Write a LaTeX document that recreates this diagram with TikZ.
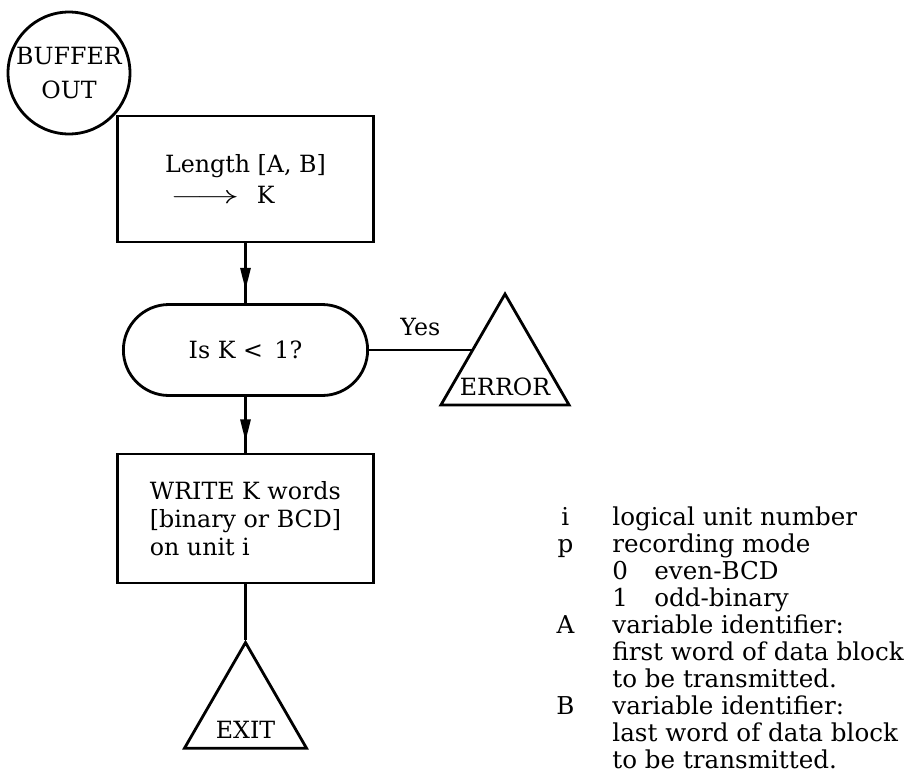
\documentclass[tikz,border=0pt]{standalone}
\usepackage{fontspec}
\setmainfont{DejaVu Serif}
\usetikzlibrary{shapes.geometric,shapes.misc,arrows.meta,decorations.markings}
\tikzset{
  block/.style={draw, line width=1.6pt, rectangle, minimum width=5.12cm, inner sep=0pt},
  entry/.style={draw, line width=1.6pt, circle, minimum size=2.44cm, inner sep=0pt, align=center, font=\fontsize{13.5}{15}\selectfont},
  decision/.style={draw, line width=1.6pt, rounded rectangle, minimum width=5.12cm, minimum height=1.82cm},
  terminal/.style={draw, line width=1.6pt, regular polygon, regular polygon sides=3, inner sep=0pt},
  termtext/.style={inner sep=0pt, above=6pt, font=\fontsize{13.5}{15}\selectfont},
  flow/.style={line width=1.6pt, postaction={decorate}, decoration={markings, mark=at position #1 with {\arrow{Triangle[length=0.44cm,width=0.2cm]}}}},
  flow/.default=0.78,
  link/.style={line width=1.6pt},
  legendtext/.style={inner sep=0pt, font=\fontsize{14}{15.4}\selectfont},
}
\begin{document}
\begin{tikzpicture}[x=0.02cm, y=-0.02cm, font=\fontsize{13.5}{16}\selectfont]
\useasboundingbox (0,0) rectangle (916,778);
% flow chart
\node[entry] (start) at (69,73) {BUFFER\\[4pt]OUT};
\node[block, minimum height=2.52cm, align=left] (len) at (245.5,179) {Length [A, B]\\[1.5pt]\hspace{0.1cm}\scalebox{1.7}[1]{$\longrightarrow$}\hspace{0.35cm}K};
\node[decision] (dec) at (245.5,350) {Is K <\, 1?};
\node[terminal, minimum size=2.96cm] (err) at (505,368) {};
\node[termtext] (errtxt) at (err.south) {ERROR};
\node[block, minimum height=2.58cm, align=left] (write) at (245.5,518.5) {WRITE K words\\{}[binary or BCD]\\on unit i};
\node[terminal, minimum size=2.82cm] (exit) at (245.5,713) {};
\node[termtext] (exittxt) at (exit.south) {EXIT};
\draw[flow] (len.south) -- (dec.north);
\draw[flow=0.8] (dec.south) -- (write.north);
\draw[link] (write.south) -- (exit.north);
\draw[link] (dec.east) -- (dec.east -| err.side 1) node[midway, above=4pt] (yes) {Yes};
% symbol list
\node[legendtext, anchor=north west] (legend) at (556,506) {%
\begin{tabular}{@{}c@{\hspace{0.76cm}}l@{}}
i & logical unit number\\
p & recording mode\\
  & \makebox[0.84cm][l]{0}even-BCD\\
  & \makebox[0.84cm][l]{1}odd-binary\\
A & variable identifier:\\
  & first word of data block\\
  & to be transmitted.\\
B & variable identifier:\\
  & last word of data block\\
  & to be transmitted.
\end{tabular}};
\end{tikzpicture}
\end{document}
